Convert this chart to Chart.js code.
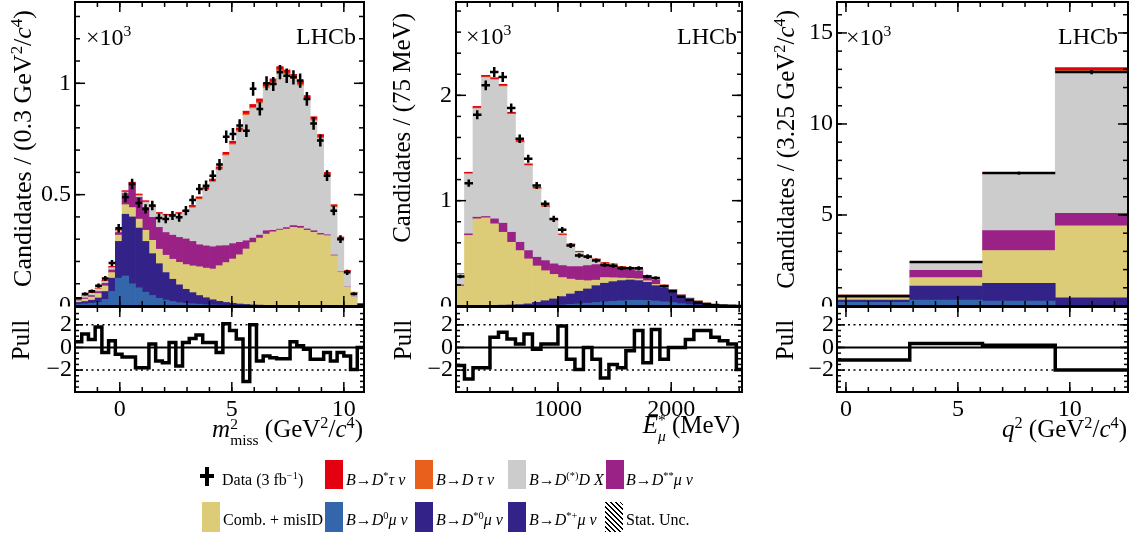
<!DOCTYPE html>
<html>
<head>
<meta charset="utf-8">
<title>LHCb fit projections</title>
<script src="https://cdn.jsdelivr.net/npm/chart.js@4.4.1/dist/chart.umd.min.js"></script>
<style>
  html, body { margin: 0; padding: 0; background: #fff; }
  #page { position: relative; width: 1137px; height: 535px; overflow: hidden;
          font-family: 'Liberation Serif', 'Times New Roman', serif; color: #000; }
  #page canvas { position: absolute; left: 0; top: 0; }
  .lbl { position: absolute; white-space: nowrap; line-height: 1; }
  .ytitle { font-size: 25px; transform-origin: 0 0; transform: rotate(-90deg) translateX(-100%); }
  .ptitle { font-size: 25px; transform-origin: 0 0; transform: rotate(-90deg) translateX(-50%); }
  .xtitle { font-size: 25px; }
  .lhcb { font-size: 24px; }
  .mult { font-size: 24px; }
  sup, sub { font-size: 0.65em; line-height: 0; position: relative; vertical-align: baseline; }
  sup { top: -0.55em; }
  sub { top: 0.3em; }
  .ss { display: inline-flex; flex-direction: column; font-size: 0.62em; line-height: 1; vertical-align: 8px; }
  .key { position: absolute; font-size: 16px; line-height: 1; white-space: nowrap; }
  .box { position: absolute; width: 18px; height: 29px; }
</style>
</head>
<body>
<div id="page">
  <canvas id="m2Main" width="1137" height="535"></canvas>
  <canvas id="m2Pull" width="1137" height="535"></canvas>
  <canvas id="elMain" width="1137" height="535"></canvas>
  <canvas id="elPull" width="1137" height="535"></canvas>
  <canvas id="q2Main" width="1137" height="535"></canvas>
  <canvas id="q2Pull" width="1137" height="535"></canvas>

  <!-- axis titles -->
  <div class="lbl ytitle" style="left:10px; top:10px; font-size:26px">Candidates / (0.3 GeV<sup>2</sup>/<i>c</i><sup>4</sup>)</div>
  <div class="lbl ytitle" style="left:389px; top:13px">Candidates / (75 MeV)</div>
  <div class="lbl ytitle" style="left:773px; top:10px">Candidates / (3.25 GeV<sup>2</sup>/<i>c</i><sup>4</sup>)</div>
  <div class="lbl ptitle" style="left:8px; top:340px">Pull</div>
  <div class="lbl ptitle" style="left:390px; top:340px">Pull</div>
  <div class="lbl ptitle" style="left:772px; top:340px">Pull</div>
  <div class="lbl xtitle" style="right:774px; top:416px"><i>m</i><span class="ss"><span>2</span><span>miss</span></span> (GeV<sup>2</sup>/<i>c</i><sup>4</sup>)</div>
  <div class="lbl xtitle" style="right:397px; top:412px"><i>E</i><span class="ss"><span>*</span><span><i>μ</i></span></span> (MeV)</div>
  <div class="lbl xtitle" style="right:10px; top:416px"><i>q</i><sup>2</sup> (GeV<sup>2</sup>/<i>c</i><sup>4</sup>)</div>

  <div class="lbl mult" style="left:86px; top:25px">×10<sup>3</sup></div>
  <div class="lbl mult" style="left:466px; top:24px">×10<sup>3</sup></div>
  <div class="lbl mult" style="left:846px; top:25px">×10<sup>3</sup></div>
  <div class="lbl lhcb" style="right:781px; top:24px">LHCb</div>
  <div class="lbl lhcb" style="right:400px; top:24px">LHCb</div>
  <div class="lbl lhcb" style="right:19px; top:24px">LHCb</div>

  <!-- legend -->
  <div style="position:absolute; left:200px; top:474px; width:14px; height:4px; background:#000"></div>
  <div style="position:absolute; left:205px; top:467px; width:4px; height:19px; background:#000"></div>
  <div class="key" style="left:222px; top:472px">Data (3 fb<sup>−1</sup>)</div>
  <div class="box" style="left:325px; top:460px; background:#e3000f"></div>
  <div class="key" style="left:346px; top:472px"><i>B</i>→<i>D</i><sup>*</sup><i>τ ν</i></div>
  <div class="box" style="left:415px; top:460px; background:#e8601c"></div>
  <div class="key" style="left:436px; top:472px"><i>B</i>→<i>D τ ν</i></div>
  <div class="box" style="left:508px; top:460px; background:#cccccc"></div>
  <div class="key" style="left:529px; top:472px"><i>B</i>→<i>D</i><sup>(*)</sup><i>D X</i></div>
  <div class="box" style="left:606px; top:460px; background:#9a2286"></div>
  <div class="key" style="left:626px; top:472px"><i>B</i>→<i>D</i><sup>**</sup><i>μ ν</i></div>

  <div class="box" style="left:202px; top:502px; height:30px; background:#ddcc77"></div>
  <div class="key" style="left:223px; top:512px">Comb. + misID</div>
  <div class="box" style="left:325px; top:502px; height:30px; background:#3366aa"></div>
  <div class="key" style="left:346px; top:512px"><i>B</i>→<i>D</i><sup>0</sup><i>μ ν</i></div>
  <div class="box" style="left:415px; top:502px; height:30px; background:#332288"></div>
  <div class="key" style="left:436px; top:512px"><i>B</i>→<i>D</i><sup>*0</sup><i>μ ν</i></div>
  <div class="box" style="left:508px; top:502px; height:30px; background:#332288"></div>
  <div class="key" style="left:529px; top:512px"><i>B</i>→<i>D</i><sup>*+</sup><i>μ ν</i></div>
  <div class="box" style="left:605px; top:502px; height:30px; background:repeating-linear-gradient(45deg, #000 0 1px, transparent 1px 3.5px)"></div>
  <div class="key" style="left:626px; top:512px">Stat. Unc.</div>
</div>

<script>
// ---- m2miss projection: 0.3 GeV^2/c^4 bins starting at -2.0, values in units of 10^3
const m2Lo = -2.0, m2Width = 0.3;
const m2D0Mu = [.008,.010,.012,.016,.030,.065,.125,.135,.100,.082,.062,.047,.035,.027,.020,.015,.012,.010,.008,.006,.005,.004,.003,.003,.002,.002,.002,.001,.001,0,0,0,0,0,0,0,0,0,0,0,0,0,0];
// D*0 mu nu and D*+ mu nu share one colour and cannot be told apart, so they are read together
const m2DstMu = [.008,.010,.014,.020,.035,.060,.165,.277,.300,.268,.228,.188,.155,.123,.100,.080,.063,.050,.039,.031,.023,.017,.013,.009,.007,.005,.003,.003,.002,.002,.001,0,0,0,0,0,0,0,0,0,0,0,0];
const m2Comb = [.008,.011,.014,.020,.025,.025,.028,.043,.042,.040,.050,.060,.065,.078,.090,.101,.111,.120,.129,.133,.138,.160,.179,.199,.221,.249,.280,.301,.320,.331,.340,.345,.353,.350,.340,.331,.320,.316,.226,.151,.084,.039,.009];
const m2DssMu = [.003,.005,.007,.009,.012,.012,.012,.050,.103,.098,.103,.103,.098,.102,.108,.112,.115,.110,.099,.100,.100,.089,.076,.069,.056,.037,.020,.013,.015,.007,.004,.007,.008,.008,.006,.007,.006,.004,.003,.002,.001,.001,0];
const m2Ddx = [.004,.007,.010,.011,.008,.009,.007,.005,.003,.007,.022,.044,.059,.074,.086,.104,.121,.150,.203,.250,.290,.340,.404,.444,.496,.563,.581,.591,.641,.659,.709,.687,.658,.631,.578,.493,.426,.265,.214,.148,.069,.019,.001];
const m2DTau = [.001,.001,.001,.002,.002,.002,.003,.003,.003,.003,.003,.003,.003,.003,.003,.003,.003,.004,.004,.004,.005,.005,.005,.005,.006,.006,.006,.007,.007,.007,.007,.007,.007,.007,.007,.006,.006,.005,.004,.003,.002,.001,0];
const m2DstTau = [.002,.002,.003,.003,.004,.005,.005,.005,.005,.005,.005,.005,.005,.005,.005,.005,.005,.008,.008,.009,.009,.010,.010,.011,.012,.013,.013,.014,.014,.014,.014,.014,.014,.014,.014,.013,.012,.010,.008,.006,.004,.002,0];
const m2Data = [.035,.054,.066,.091,.124,.193,.349,.488,.548,.463,.436,.451,.395,.391,.406,.398,.428,.476,.525,.540,.585,.635,.760,.772,.810,.787,.975,.885,1.000,.997,1.050,1.034,1.027,1.012,.930,.820,.743,.585,.428,.300,.151,.054,.006];
const m2Pull = [0.5,1.2,0.7,1.8,-0.45,0.6,-0.6,-0.85,-0.85,-1.8,-1.8,0.3,-1.2,-1.35,0.45,-1.65,0.45,0.8,1.1,0.45,0.45,-0.45,2.1,1.5,0.75,-3.0,2.0,-1.2,-0.75,-0.9,-1.0,-1.0,0.5,0.15,-0.15,-1.05,-1.05,-0.45,-1.2,-0.45,-0.75,-1.95,0];

// ---- E*mu projection: 75 MeV bins starting at 100 MeV
const elLo = 100, elWidth = 75;
const elD0Mu = [0,0,0,0,0,0,0,0,0,0,.003,.006,.010,.015,.020,.027,.033,.040,.045,.050,.053,.055,.052,.048,.040,.032,.022,.013,.007,.004,.002,.001,0,0];
const elDstMu = [0,0,.002,.004,.006,.008,.010,.013,.020,.035,.047,.061,.079,.099,.120,.135,.160,.176,.186,.191,.194,.186,.173,.145,.130,.108,.078,.057,.038,.021,.010,.005,.003,.001];
const elComb = [.190,.670,.825,.833,.774,.692,.595,.513,.427,.345,.285,.233,.181,.141,.105,.078,.052,.054,.037,.024,.015,.017,.015,.012,.010,.008,.005,.003,.002,.001,.001,0,0,0];
const elDssMu = [.010,.015,.016,.013,.047,.086,.095,.079,.079,.083,.096,.100,.114,.119,.129,.144,.148,.130,.117,.097,.081,.075,.038,.040,.015,.007,.003,0,0,0,0,0,0,0];
const elDdx = [.103,.567,1.031,1.319,1.320,1.298,1.119,.947,.805,.647,.507,.412,.286,.203,.134,.067,.043,.006,.006,.005,.005,.006,.007,.006,.002,0,.001,.001,.001,.001,.001,.001,0,0];
const elDTau = [.002,.006,.006,.006,.006,.006,.006,.006,.006,.006,.005,.005,.005,.004,.004,.004,.004,.003,.003,.003,.002,.002,.002,.001,.001,.001,0,0,0,0,0,0,0,0];
const elDstTau = [.005,.012,.015,.015,.015,.015,.015,.014,.013,.012,.011,.010,.010,.009,.008,.008,.007,.006,.006,.005,.005,.004,.003,.003,.002,.002,.001,.001,0,0,0,0,0,0];
const elData = [.279,1.166,1.816,2.095,2.222,2.174,1.880,1.588,1.398,1.144,.970,.827,.723,.574,.479,.469,.431,.390,.383,.358,.358,.358,.279,.266,.187,.139,.089,.057,.032,.019,.010,.004,.003,.001];
const elPull = [-1.6,-2.8,-1.8,-1.8,0.9,1.35,0.75,0.3,1.2,-0.15,0.3,0.3,1.9,-1.05,-1.95,0,-1.05,-2.7,-1.5,-1.8,-0.3,1.5,-1.35,1.6,-1.05,0,0,0.7,1.5,1.5,0.9,0.6,0.3,-1.95];

// ---- q2 projection: 3.25 GeV^2/c^4 bins starting at -0.4
const q2Lo = -0.4, q2Width = 3.25;
const q2D0Mu = [.20,.33,.27,0];
const q2DstMu = [.13,.76,.97,.45];
const q2Comb = [.12,.47,1.81,3.95];
const q2DssMu = [.05,.40,1.10,.69];
const q2Ddx = [.07,.41,3.08,7.76];
const q2DTau = [.01,.02,.04,.10];
const q2DstTau = [.02,.03,.06,.15];
const q2Data = [.55,2.42,7.30,12.85];
const q2Pull = [-1.1,0.35,0.2,-2.0];

const colours = {
  dstTau: '#e3000f', dTau: '#e8601c', ddx: '#cccccc', dssMu: '#9a2286',
  comb: '#ddcc77', d0Mu: '#3366aa', dstMu: '#332288'
};

Chart.defaults.font.family = "'Liberation Serif', 'Times New Roman', serif";
Chart.defaults.font.size = 24;
Chart.defaults.color = '#000';
Chart.defaults.animation = false;

const binCentres = (lo, w, n) => Array.from({ length: n }, (_, i) => lo + w * (i + 0.5));
const binEdges = (lo, w, n) => Array.from({ length: n + 1 }, (_, i) => lo + w * i);
const fmt = v => (v < 0 ? '\u2212' : '') + Math.abs(v);
function steps(min, max, step) {
  const out = [];
  for (let i = Math.ceil(min / step - 1e-6); i <= Math.floor(max / step + 1e-6); i++) out.push(+(i * step).toFixed(6));
  return out;
}

// ROOT-like frame: inward ticks on all four sides, pull reference lines, data crosses
const rootFrame = {
  id: 'rootFrame',
  beforeDraw(chart, args, o) {
    if (o.mask == null) return;
    const a = chart.chartArea, ctx = chart.ctx;
    ctx.save();
    ctx.fillStyle = '#fff';
    ctx.fillRect(o.mask, a.top - 0.5, a.left - o.mask - 1.5, 24);
    ctx.restore();
  },
  beforeDatasetsDraw(chart, args, o) {
    if (!o.pullLines) return;
    const { ctx, chartArea: a, scales: { y } } = chart;
    const hline = v => { const p = y.getPixelForValue(v); ctx.beginPath(); ctx.moveTo(a.left, p); ctx.lineTo(a.right, p); ctx.stroke(); };
    ctx.save();
    ctx.strokeStyle = '#000';
    ctx.lineWidth = 1.5;
    ctx.setLineDash([2, 3.5]);
    hline(-2); hline(2);
    ctx.setLineDash([]);
    ctx.lineWidth = 2;
    hline(0);
    ctx.restore();
  },
  afterDatasetsDraw(chart) {
    const { ctx, chartArea: a, scales: { x, y } } = chart;
    ctx.save();
    ctx.beginPath(); ctx.rect(a.left, a.top, a.width, a.height); ctx.clip();
    ctx.strokeStyle = '#000';
    ctx.lineWidth = 2.5;
    chart.data.datasets.forEach(ds => {
      if (!ds.errBars) return;
      ds.data.forEach(p => {
        if (p.y <= 0) return;
        const err = Math.sqrt(p.y * 1000) / 1000;
        const px = x.getPixelForValue(p.x), py = y.getPixelForValue(p.y);
        ctx.beginPath();
        ctx.moveTo(x.getPixelForValue(p.x - ds.errBars), py);
        ctx.lineTo(x.getPixelForValue(p.x + ds.errBars), py);
        ctx.moveTo(px, y.getPixelForValue(p.y - err));
        ctx.lineTo(px, y.getPixelForValue(p.y + err));
        ctx.stroke();
      });
    });
    ctx.restore();
  },
  afterDraw(chart, args, o) {
    const { ctx, chartArea: a, scales: { x, y } } = chart;
    const seg = (x1, y1, x2, y2) => { ctx.beginPath(); ctx.moveTo(x1, y1); ctx.lineTo(x2, y2); ctx.stroke(); };
    ctx.save();
    ctx.strokeStyle = '#000';
    ctx.lineWidth = 1.5;
    [[o.xMinor, o.xMinLen], [o.xMajor, o.xMajLen]].forEach(([step, len]) => {
      steps(x.min, x.max, step).forEach(v => {
        const p = x.getPixelForValue(v);
        if (p < a.left + 1 || p > a.right - 1) return;
        seg(p, a.bottom, p, a.bottom - len);
        seg(p, a.top, p, a.top + len);
      });
    });
    [[o.yMinor, o.yMinLen], [o.yMajor, o.yMajLen]].forEach(([step, len]) => {
      steps(y.min, y.max, step).forEach(v => {
        const p = y.getPixelForValue(v);
        if (p < a.top + 1 || p > a.bottom - 1) return;
        seg(a.left, p, a.left + len, p);
        seg(a.right, p, a.right - len, p);
      });
    });
    ctx.lineWidth = 2;
    ctx.strokeRect(a.left, a.top, a.width, a.height);
    ctx.restore();
  }
};
Chart.register(rootFrame);

const MAIN_TOP = 2, MAIN_BOTTOM = 306, PULL_TOP = 307, PULL_BOTTOM = 392;
const Y_AXIS_W = 60, X_AXIS_H = 40;

// fixed axis boxes so the plot areas land exactly where the reference has them
const fixY = s => { s.width = Y_AXIS_W; s.paddingTop = 0; s.paddingBottom = 0; };
const fixX = s => { s.height = X_AXIS_H; s.paddingLeft = 0; s.paddingRight = 0; };

function mainChart(id, p) {
  const centres = binCentres(p.lo, p.width, p.data.length);
  const layer = (label, vals, colour) => ({
    type: 'bar', label, stack: 'fit', backgroundColor: colour, borderWidth: 0,
    barPercentage: 1, categoryPercentage: 1,
    data: vals.map((v, i) => ({ x: centres[i], y: v }))
  });
  return new Chart(document.getElementById(id), {
    type: 'bar',
    data: {
      datasets: [
        layer('B→D0μν', p.d0Mu, colours.d0Mu),
        layer('B→D*0μν + B→D*+μν', p.dstMu, colours.dstMu),
        layer('Comb. + misID', p.comb, colours.comb),
        layer('B→D**μν', p.dssMu, colours.dssMu),
        layer('B→D(*)DX', p.ddx, colours.ddx),
        layer('B→Dτν', p.dTau, colours.dTau),
        layer('B→D*τν', p.dstTau, colours.dstTau),
        { type: 'scatter', label: 'Data', stack: 'data', pointRadius: 0, errBars: p.width / 2,
          data: p.data.map((v, i) => ({ x: centres[i], y: v })) }
      ]
    },
    options: {
      responsive: false,
      layout: { padding: { left: p.left - Y_AXIS_W, right: 1137 - p.right, top: MAIN_TOP, bottom: 535 - MAIN_BOTTOM } },
      plugins: {
        legend: { display: false }, tooltip: { enabled: false },
        rootFrame: { xMajor: p.xMajor, xMinor: p.xMinor, yMajor: p.yMajor, yMinor: p.yMinor,
                     xMajLen: 10, xMinLen: 5, yMajLen: 10, yMinLen: 5 }
      },
      scales: {
        x: { type: 'linear', display: false, stacked: true, offset: false, min: p.xMin, max: p.xMax,
             afterBuildTicks: s => { s.ticks = []; } },
        y: { type: 'linear', stacked: true, min: 0, max: p.yMax,
             afterFit: fixY,
             afterBuildTicks: s => { s.ticks = steps(0, p.yMax, p.yMajor).map(v => ({ value: v })); },
             grid: { display: false, drawTicks: false }, border: { display: false },
             ticks: { padding: 4, callback: fmt } }
      }
    }
  });
}

function pullChart(id, p) {
  const edges = binEdges(p.lo, p.width, p.pull.length);
  const n = p.pull.length;
  return new Chart(document.getElementById(id), {
    type: 'line',
    data: {
      datasets: [{
        label: 'Pull', stepped: true, borderColor: '#000', borderWidth: 3.5, pointRadius: 0, fill: false,
        data: edges.map((e, i) => ({ x: e, y: p.pull[Math.min(i, n - 1)] }))
      }]
    },
    options: {
      responsive: false,
      layout: { padding: { left: p.left - Y_AXIS_W, right: 1137 - p.right, top: PULL_TOP, bottom: 535 - PULL_BOTTOM - X_AXIS_H } },
      plugins: {
        legend: { display: false }, tooltip: { enabled: false },
        rootFrame: { mask: p.mask, pullLines: true, xMajor: p.xMajor, xMinor: p.xMinor, yMajor: 2, yMinor: 0.5,
                     xMajLen: 10, xMinLen: 5, yMajLen: 8, yMinLen: 4 }
      },
      scales: {
        x: { type: 'linear', min: p.xMin, max: p.xMax,
             afterFit: fixX,
             afterBuildTicks: s => { s.ticks = steps(p.xMin, p.xMax, p.xMajor).map(v => ({ value: v })); },
             grid: { display: false, drawTicks: false }, border: { display: false },
             ticks: { padding: 3, maxRotation: 0, autoSkip: false, callback: fmt } },
        y: { type: 'linear', min: -3.94, max: 3.58,
             afterFit: fixY,
             afterBuildTicks: s => { s.ticks = [-2, 0, 2].map(v => ({ value: v })); },
             grid: { display: false, drawTicks: false }, border: { display: false },
             ticks: { padding: 3, callback: fmt } }
      }
    }
  });
}

const m2Panel = { lo: m2Lo, width: m2Width, left: 75, right: 364, mask: 0,
  xMin: -2, xMax: 10.9, xMajor: 5, xMinor: 1, yMax: 1.365, yMajor: 0.5, yMinor: 0.1,
  d0Mu: m2D0Mu, dstMu: m2DstMu, comb: m2Comb, dssMu: m2DssMu, ddx: m2Ddx, dTau: m2DTau, dstTau: m2DstTau,
  data: m2Data, pull: m2Pull };
const elPanel = { lo: elLo, width: elWidth, left: 456, right: 742, mask: 372,
  xMin: 100, xMax: 2625, xMajor: 1000, xMinor: 200, yMax: 2.886, yMajor: 1, yMinor: 0.2,
  d0Mu: elD0Mu, dstMu: elDstMu, comb: elComb, dssMu: elDssMu, ddx: elDdx, dTau: elDTau, dstTau: elDstTau,
  data: elData, pull: elPull };
const q2Panel = { lo: q2Lo, width: q2Width, left: 837, right: 1128, mask: 752,
  xMin: -0.4, xMax: 12.6, xMajor: 5, xMinor: 1, yMax: 16.7, yMajor: 5, yMinor: 1,
  d0Mu: q2D0Mu, dstMu: q2DstMu, comb: q2Comb, dssMu: q2DssMu, ddx: q2Ddx, dTau: q2DTau, dstTau: q2DstTau,
  data: q2Data, pull: q2Pull };

mainChart('m2Main', m2Panel);
pullChart('m2Pull', m2Panel);
mainChart('elMain', elPanel);
pullChart('elPull', elPanel);
mainChart('q2Main', q2Panel);
pullChart('q2Pull', q2Panel);
</script>
</body>
</html>
